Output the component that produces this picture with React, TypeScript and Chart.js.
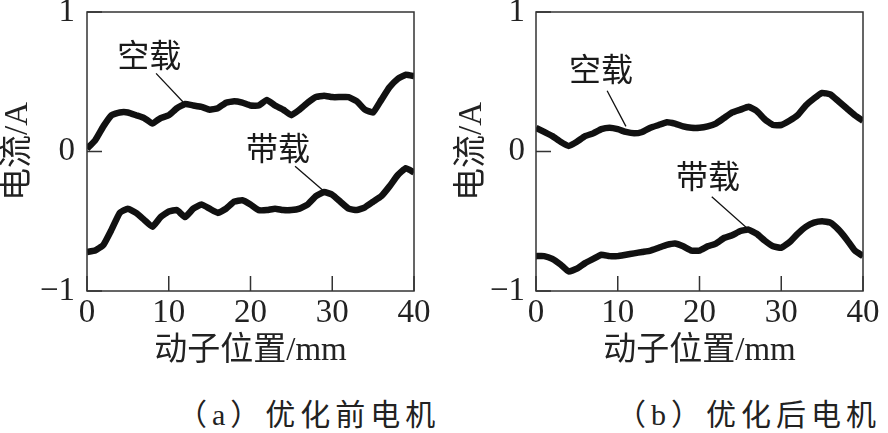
import { useEffect, useRef } from "react";
import { Chart, registerables } from "chart.js";

Chart.register(...registerables);

// ---- data ----
const positions = [
  0, 1, 2, 3, 4, 5, 6, 7, 8, 9, 10, 11, 12, 13, 14, 15, 16, 17, 18, 19, 20,
  21, 22, 23, 24, 25, 26, 27, 28, 29, 30, 31, 32, 33, 34, 35, 36, 37, 38, 39, 40,
];
// (a) before optimisation
const noLoadA = [
  0.02, 0.08, 0.18, 0.26, 0.28, 0.28, 0.26, 0.24, 0.2, 0.24, 0.26, 0.31, 0.34,
  0.33, 0.32, 0.3, 0.31, 0.35, 0.36, 0.35, 0.33, 0.33, 0.37, 0.33, 0.3, 0.26,
  0.3, 0.35, 0.39, 0.4, 0.39, 0.39, 0.39, 0.36, 0.3, 0.28, 0.37, 0.46, 0.52,
  0.55, 0.54,
];
const loadA = [
  -0.72, -0.71, -0.67, -0.56, -0.44, -0.41, -0.44, -0.49, -0.54, -0.47, -0.43,
  -0.42, -0.47, -0.41, -0.38, -0.41, -0.44, -0.41, -0.36, -0.35, -0.38, -0.42,
  -0.42, -0.41, -0.42, -0.42, -0.41, -0.38, -0.32, -0.29, -0.31, -0.36, -0.41,
  -0.42, -0.4, -0.36, -0.32, -0.25, -0.17, -0.12, -0.15,
];
// (b) after optimisation
const noLoadB = [
  0.17, 0.14, 0.11, 0.07, 0.04, 0.07, 0.11, 0.13, 0.16, 0.17, 0.16, 0.14, 0.13,
  0.14, 0.17, 0.19, 0.21, 0.2, 0.18, 0.17, 0.17, 0.18, 0.2, 0.24, 0.28, 0.3,
  0.32, 0.29, 0.23, 0.19, 0.19, 0.22, 0.26, 0.33, 0.38, 0.42, 0.41, 0.36, 0.31,
  0.26, 0.22,
];
const loadB = [
  -0.75, -0.75, -0.77, -0.81, -0.86, -0.84, -0.8, -0.77, -0.74, -0.75, -0.75,
  -0.74, -0.73, -0.72, -0.71, -0.69, -0.67, -0.66, -0.68, -0.71, -0.71, -0.68,
  -0.66, -0.62, -0.6, -0.57, -0.56, -0.59, -0.64, -0.68, -0.69, -0.65, -0.59,
  -0.54, -0.51, -0.5, -0.51, -0.56, -0.63, -0.71, -0.75,
];
const xTickValues = [0, 10, 20, 30, 40];
const yTickValues = [-1, 0, 1];
const seriesNames = ["空载", "带载"];
const captions = ["（a）优化前电机", "（b）优化后电机"];
const xTitle = "动子位置/mm";
const yTitle = "电流/A";

// annotation anchors (data units): text centre, leader start, leader end
const annotationsA = [
  { tx: 7.6, ty: 0.69, x1: 8.45, y1: 0.56, x2: 11.75, y2: 0.355 },
  { tx: 23.35, ty: 0.025, x1: 25.45, y1: -0.105, x2: 29.1, y2: -0.29 },
];
const annotationsB = [
  { tx: 7.95, ty: 0.59, x1: 8.7, y1: 0.436, x2: 11.0, y2: 0.18 },
  { tx: 21.05, ty: -0.175, x1: 21.5, y1: -0.325, x2: 25.8, y2: -0.548 },
];

const SERIF = '"Liberation Serif", "Times New Roman", serif';
const MIXED = '"Liberation Serif", "Noto Sans CJK SC", serif';
const CJK = '"Noto Sans CJK SC", sans-serif';

type Ann = { tx: number; ty: number; x1: number; y1: number; x2: number; y2: number };

interface PanelProps {
  noLoad: number[];
  load: number[];
  anns: Ann[];
  left: number;
  axisWidth: number;
  rightPad: number;
  yTitlePad: number;
  yTickPad: number;
}

const W = 444;
const H = 370;

function Panel({ noLoad, load, anns, left, axisWidth, rightPad, yTitlePad, yTickPad }: PanelProps) {
  const ref = useRef<HTMLCanvasElement | null>(null);
  useEffect(() => {
    const canvas = ref.current;
    if (!canvas) return;
    const decor = {
      id: "decor",
      afterDatasetsDraw(chart: any) {
        const { ctx, chartArea } = chart;
        const { left: l, right: r, top: t, bottom: b } = chartArea;
        const xs = chart.scales.x;
        const ys = chart.scales.y;
        ctx.save();
        ctx.strokeStyle = "#333";
        ctx.lineWidth = 1.5;
        ctx.strokeRect(l, t, r - l, b - t);
        ctx.beginPath();
        xs.ticks.forEach((tk: any) => {
          const px = xs.getPixelForValue(tk.value);
          ctx.moveTo(px, b);
          ctx.lineTo(px, b - 15);
        });
        ys.ticks.forEach((tk: any) => {
          const py = ys.getPixelForValue(tk.value);
          ctx.moveTo(l, py);
          ctx.lineTo(l + 15, py);
        });
        ctx.stroke();
        // annotations
        ctx.lineWidth = 1.3;
        ctx.strokeStyle = "#111";
        ctx.fillStyle = "#1a1a1a";
        ctx.font = `32px ${CJK}`;
        ctx.textAlign = "center";
        ctx.textBaseline = "middle";
        anns.forEach((a, i) => {
          ctx.fillText(seriesNames[i], xs.getPixelForValue(a.tx), ys.getPixelForValue(a.ty));
          ctx.beginPath();
          ctx.moveTo(xs.getPixelForValue(a.x1), ys.getPixelForValue(a.y1));
          ctx.lineTo(xs.getPixelForValue(a.x2), ys.getPixelForValue(a.y2));
          ctx.stroke();
        });
        ctx.restore();
      },
    };
    const mk = (arr: number[]) => positions.map((p, i) => ({ x: p, y: arr[i] }));
    const chart = new Chart(canvas, {
      type: "line",
      data: {
        datasets: [
          { label: seriesNames[0], data: mk(noLoad), borderColor: "#111", borderWidth: 6.5, pointRadius: 0, tension: 0.12 },
          { label: seriesNames[1], data: mk(load), borderColor: "#111", borderWidth: 6.5, pointRadius: 0, tension: 0.12 },
        ],
      },
      options: {
        responsive: false,
        animation: false,
        devicePixelRatio: 1,
        layout: { padding: { top: 12, right: rightPad, left: 0, bottom: 0 } },
        plugins: { legend: { display: false }, tooltip: { enabled: false } },
        scales: {
          x: {
            type: "linear",
            min: 0,
            max: 40,
            afterBuildTicks: (s: any) => {
              s.ticks = xTickValues.map((v) => ({ value: v }));
            },
            afterFit: (s: any) => {
              s.height = H - 291;
              s.paddingLeft = 0;
              s.paddingRight = 0;
            },
            grid: { display: false, drawTicks: false },
            border: { display: false },
            ticks: { color: "#222", padding: 3, maxRotation: 0, font: { family: SERIF, size: 33 } },
            title: {
              display: true,
              text: xTitle,
              color: "#222",
              padding: { top: 0, bottom: 1 },
              font: { family: MIXED, size: 33, lineHeight: 1.1 },
            },
          },
          y: {
            type: "linear",
            min: -1,
            max: 1,
            afterBuildTicks: (s: any) => {
              s.ticks = yTickValues.map((v) => ({ value: v }));
            },
            afterFit: (s: any) => {
              s.width = axisWidth;
              s.paddingTop = 0;
              s.paddingBottom = 0;
            },
            grid: { display: false, drawTicks: false },
            border: { display: false },
            ticks: {
              color: "#222",
              padding: yTickPad,
              font: { family: SERIF, size: 33 },
              callback: (v: any) => (Number(v) < 0 ? "\u2212" + Math.abs(Number(v)) : String(v)),
            },
            title: {
              display: true,
              text: yTitle,
              color: "#222",
              padding: { top: yTitlePad, bottom: 0 },
              font: { family: MIXED, size: 33, lineHeight: 1.1 },
            },
          },
        },
      },
      plugins: [decor],
    });
    return () => chart.destroy();
  }, [noLoad, load, anns, axisWidth, rightPad, yTitlePad, yTickPad]);
  return (
    <canvas
      ref={ref}
      width={W}
      height={H}
      style={{ position: "absolute", left, top: 0, width: W, height: H }}
    />
  );
}

export default function App() {
  const capStyle = {
    position: "absolute" as const,
    top: 399,
    fontFamily: MIXED,
    fontSize: 30,
    lineHeight: "32px",
    letterSpacing: "5px",
    color: "#222",
    whiteSpace: "nowrap" as const,
  };
  return (
    <div style={{ position: "absolute", left: 0, top: 0, width: 888, height: 433, background: "#fff", overflow: "hidden" }}>
      <Panel noLoad={noLoadA} load={loadA} anns={annotationsA} left={0} axisWidth={87} rightPad={30} yTitlePad={0} yTickPad={12} />
      <Panel noLoad={noLoadB} load={loadB} anns={annotationsB} left={444} axisWidth={92} rightPad={25} yTitlePad={10} yTickPad={11} />
      <div style={{ ...capStyle, left: 177 }}>{captions[0]}</div>
      <div style={{ ...capStyle, left: 616 }}>{captions[1]}</div>
    </div>
  );
}
